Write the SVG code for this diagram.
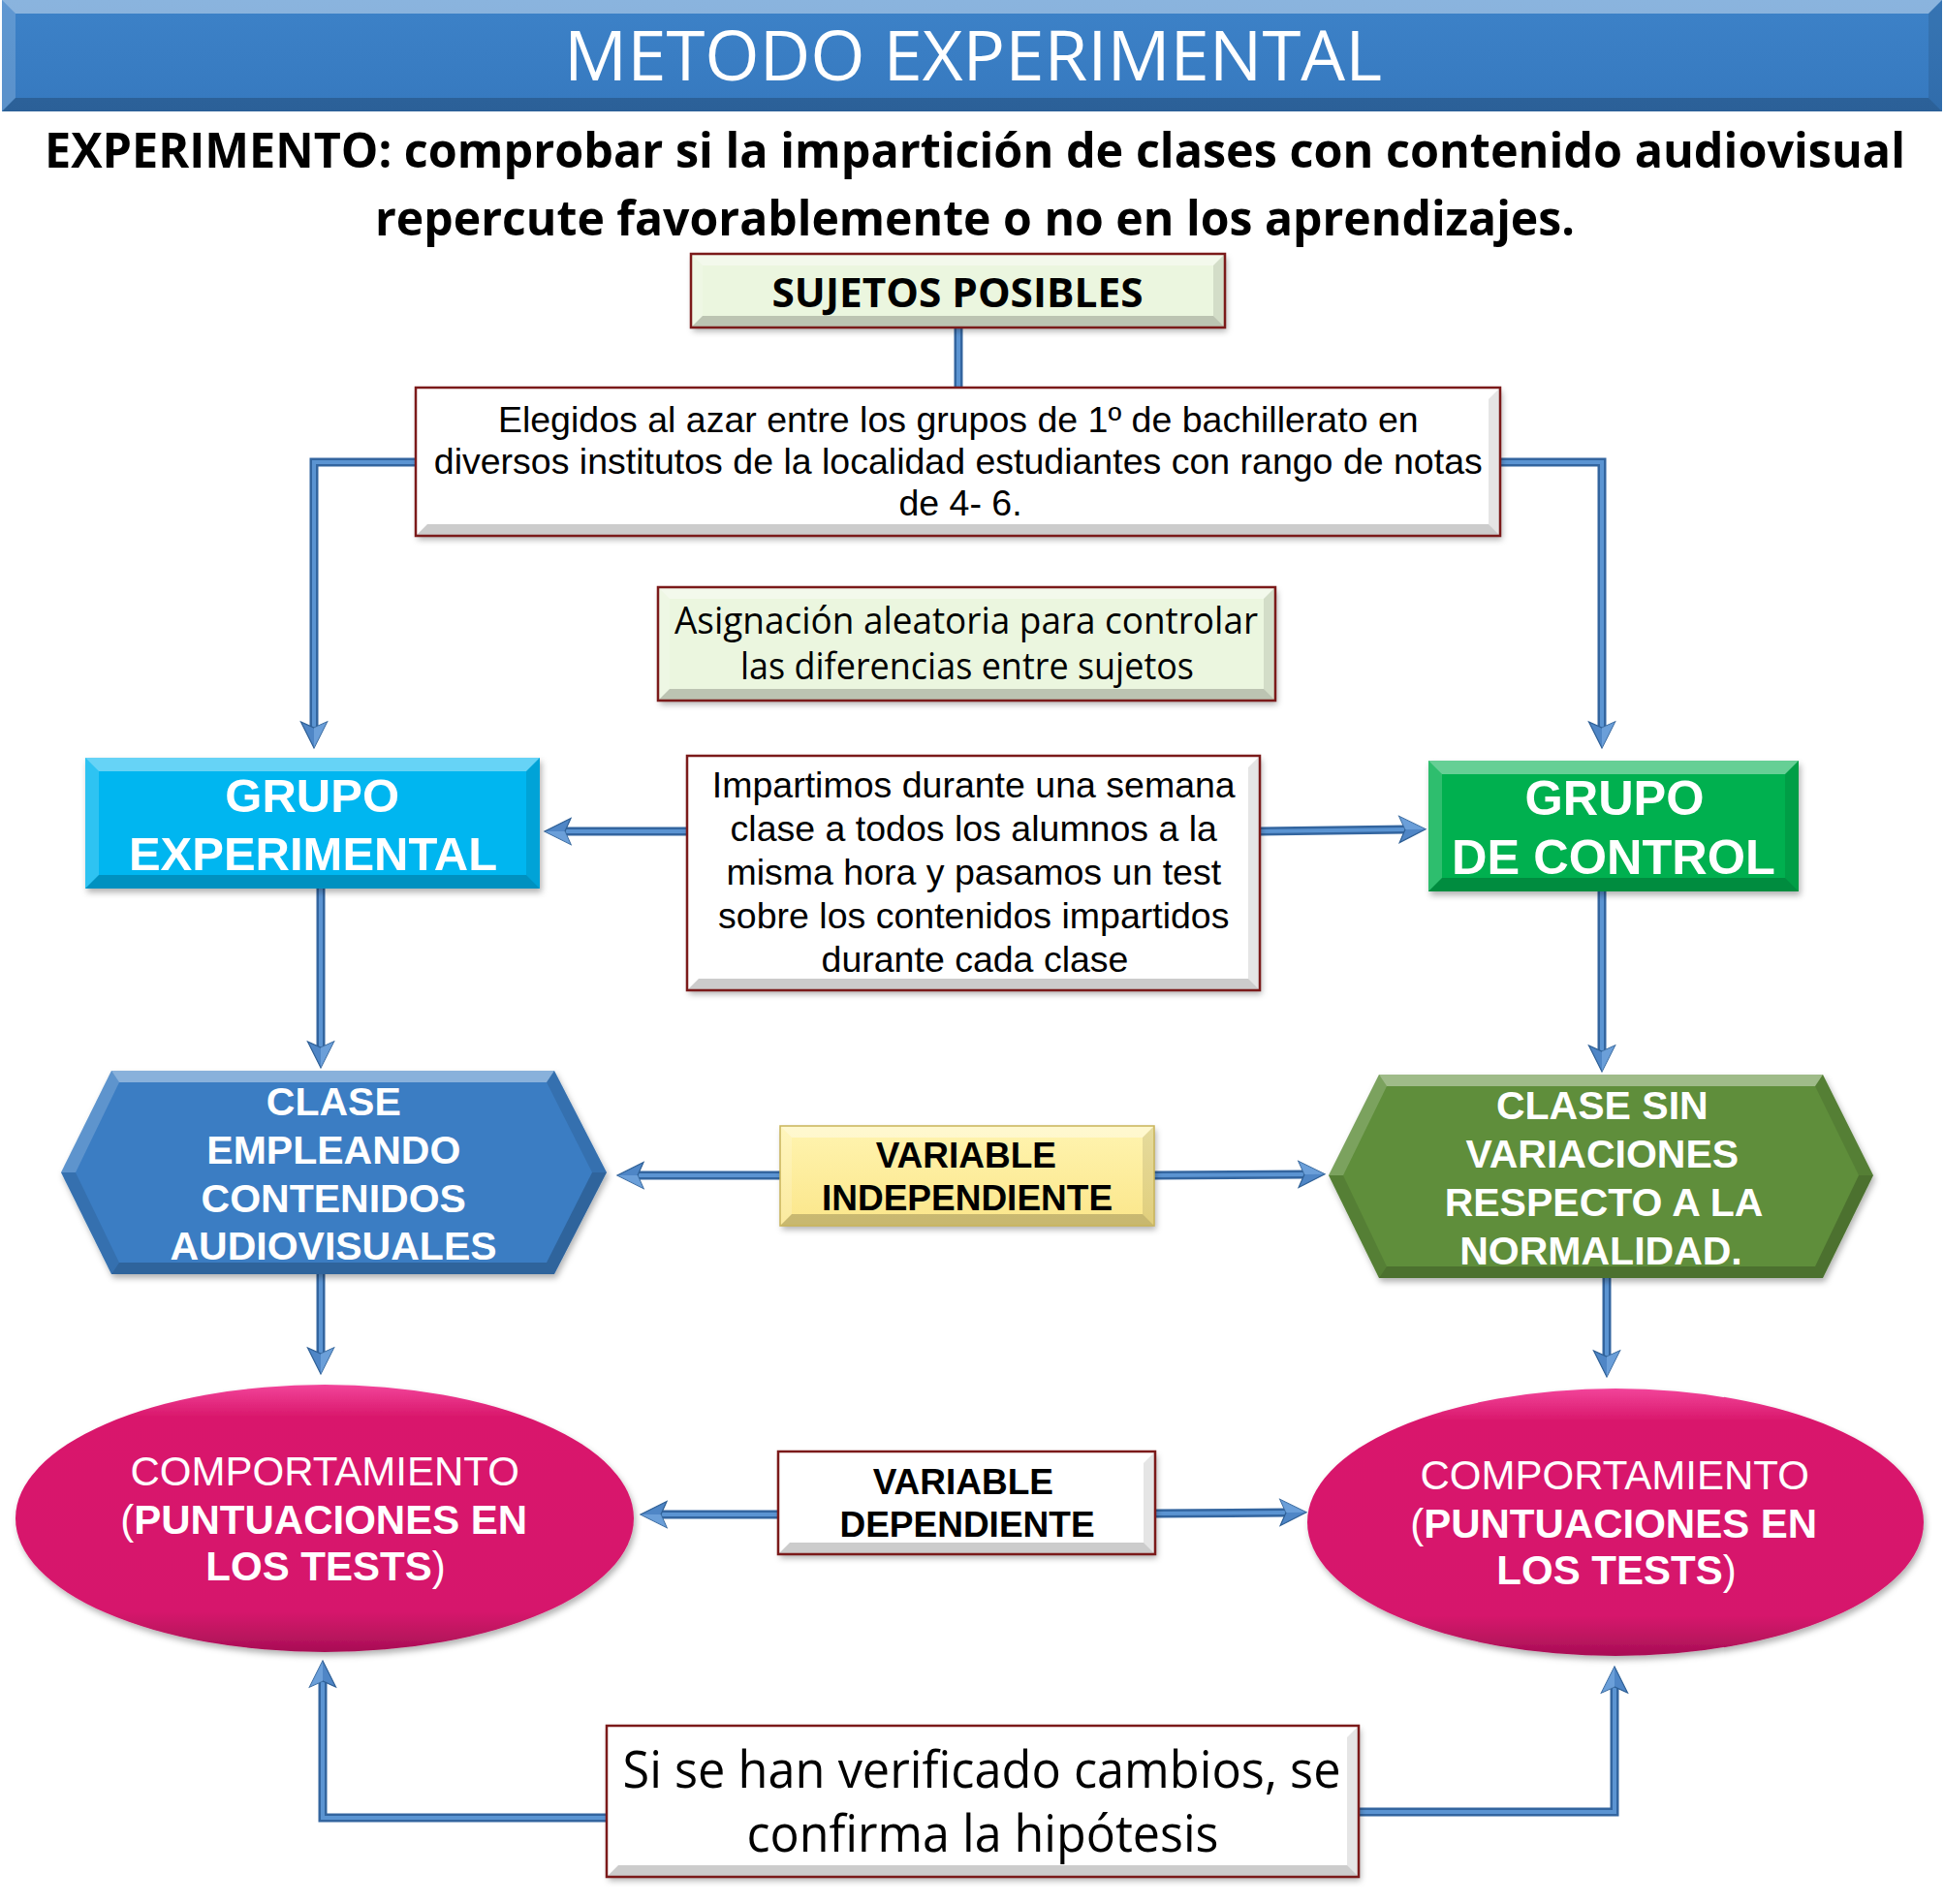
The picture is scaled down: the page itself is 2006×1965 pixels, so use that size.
<svg xmlns="http://www.w3.org/2000/svg" width="2006" height="1965" viewBox="0 0 2006 1965">
<defs>
<style>
.arial{font-family:"Liberation Sans",Arial,sans-serif}
.cal{font-family:"Open Sans","Liberation Sans",sans-serif}
.b{font-weight:bold}
.w{fill:#ffffff}
.k{fill:#000000}
.bt{fill:#ffffff;opacity:0.4}
.bl{fill:#ffffff;opacity:0.18}
.bb{fill:#000000;opacity:0.2}
.br{fill:#000000;opacity:0.1}
.redb{stroke:#7b1a1a;stroke-width:2.5}
.cb{fill:none;stroke:#33659f;stroke-width:9;stroke-linejoin:miter}
.cf{fill:none;stroke:#5b94d2;stroke-width:4;stroke-linejoin:miter}
</style>
<filter id="sh" x="-5%" y="-10%" width="112%" height="130%">
<feDropShadow dx="2" dy="4" stdDeviation="3" flood-color="#000" flood-opacity="0.3"/>
</filter>
<marker id="ah" markerUnits="userSpaceOnUse" viewBox="-2 -2 31 31" markerWidth="31" markerHeight="31" refX="6" refY="13.5" orient="auto" overflow="visible">
<path d="M0,0 L27,13.5 L0,27 L6,13.5 Z" fill="#4f86c6" stroke="#2e5f95" stroke-width="1.2"/>
<path d="M0,0 L27,13.5 L6,13.5 Z" fill="#7fb0e6" opacity="0.6"/>
</marker>
<linearGradient id="gHead" x1="0" y1="0" x2="0" y2="1">
<stop offset="0" stop-color="#3d82c8"/><stop offset="1" stop-color="#3679bf"/>
</linearGradient>
<linearGradient id="gPink" x1="0" y1="0" x2="0" y2="1">
<stop offset="0" stop-color="#f2449a"/><stop offset="0.12" stop-color="#d9186c"/><stop offset="0.85" stop-color="#d6186c"/><stop offset="1" stop-color="#a80f55"/>
</linearGradient>
<linearGradient id="gYel" x1="0" y1="0" x2="0" y2="1">
<stop offset="0" stop-color="#fff4b0"/><stop offset="1" stop-color="#fbe68a"/>
</linearGradient>
</defs>

<rect width="2006" height="1965" fill="#ffffff"/>

<!-- header -->
<g id="header">
<rect x="2" y="0" width="2002" height="115" fill="url(#gHead)"/>
<polygon class="bt" points="2,0 2004,0 1990,14 16,14"/>
<polygon class="bl" points="2,0 16,14 16,101 2,115"/>
<polygon class="bb" points="2,115 16,101 1990,101 2004,115"/>
<polygon class="br" points="2004,0 2004,115 1990,101 1990,14"/>
<text class="cal w" x="1004" y="83" font-size="72" text-anchor="middle" textLength="844" lengthAdjust="spacingAndGlyphs">METODO EXPERIMENTAL</text>
</g>

<g id="experimento">
<text class="cal b k" transform="translate(0,173) scale(1,1.1)" x="46" y="0" font-size="46" textLength="1920" lengthAdjust="spacingAndGlyphs">EXPERIMENTO: comprobar si la impartición de clases con contenido audiovisual</text>
<text class="cal b k" transform="translate(0,243) scale(1,1.1)" x="387" y="0" font-size="46" textLength="1238" lengthAdjust="spacingAndGlyphs">repercute favorablemente o no en los aprendizajes.</text>
</g>

<!-- connectors -->
<g id="connectors">
<path class="cb" d="M989,338 V401"/><path class="cf" d="M989,338 V401"/>
<path class="cb" d="M429,477 H324 V751"/><path class="cf" d="M429,477 H324 V751" marker-end="url(#ah)"/>
<path class="cb" d="M1548,477 H1653 V751"/><path class="cf" d="M1548,477 H1653 V751" marker-end="url(#ah)"/>
<path class="cb" d="M709,858 H583"/><path class="cf" d="M709,858 H583" marker-end="url(#ah)"/>
<path class="cb" d="M1300,858 L1450,856"/><path class="cf" d="M1300,858 L1450,856" marker-end="url(#ah)"/>
<path class="cb" d="M331,917 V1081"/><path class="cf" d="M331,917 V1081" marker-end="url(#ah)"/>
<path class="cb" d="M1653,920 V1085"/><path class="cf" d="M1653,920 V1085" marker-end="url(#ah)"/>
<path class="cb" d="M805,1213 H658"/><path class="cf" d="M805,1213 H658" marker-end="url(#ah)"/>
<path class="cb" d="M1191,1213 L1346,1212"/><path class="cf" d="M1191,1213 L1346,1212" marker-end="url(#ah)"/>
<path class="cb" d="M331,1315 V1397"/><path class="cf" d="M331,1315 V1397" marker-end="url(#ah)"/>
<path class="cb" d="M1658,1319 V1400"/><path class="cf" d="M1658,1319 V1400" marker-end="url(#ah)"/>
<path class="cb" d="M803,1563 H682"/><path class="cf" d="M803,1563 H682" marker-end="url(#ah)"/>
<path class="cb" d="M1192,1562 L1327,1561"/><path class="cf" d="M1192,1562 L1327,1561" marker-end="url(#ah)"/>
<path class="cb" d="M626,1876 H333 V1735"/><path class="cf" d="M626,1876 H333 V1735" marker-end="url(#ah)"/>
<path class="cb" d="M1402,1870 H1666 V1741"/><path class="cf" d="M1402,1870 H1666 V1741" marker-end="url(#ah)"/>
</g>

<!-- SUJETOS POSIBLES -->
<g id="sujetos">
<rect x="713" y="262" width="551" height="76" fill="#ebf6df" filter="url(#sh)"/>
<polygon class="bt" points="713,262 1264,262 1252,274 725,274"/>
<polygon class="bl" points="713,262 725,274 725,326 713,338"/>
<polygon class="bb" points="713,338 725,326 1252,326 1264,338"/>
<polygon class="br" points="1264,262 1264,338 1252,326 1252,274"/>
<rect x="713" y="262" width="551" height="76" fill="none" class="redb"/>
<text class="cal b k" x="988" y="317" font-size="42" text-anchor="middle" textLength="383" lengthAdjust="spacingAndGlyphs">SUJETOS POSIBLES</text>
</g>

<!-- Elegidos -->
<g id="elegidos">
<rect x="429" y="400" width="1119" height="153" fill="#ffffff" filter="url(#sh)"/>
<polygon class="bb" points="429,553 441,541 1536,541 1548,553"/>
<polygon class="br" points="1548,400 1548,553 1536,541 1536,412"/>
<rect x="429" y="400" width="1119" height="153" fill="none" class="redb"/>
<text class="arial k" font-size="37.5" text-anchor="middle">
<tspan x="994" y="446">Elegidos al azar entre los grupos de 1º de bachillerato en</tspan>
<tspan x="994" y="489">diversos institutos de la localidad estudiantes con rango de notas</tspan>
<tspan x="991" y="532">de 4- 6.</tspan>
</text>
</g>

<!-- Asignacion -->
<g id="asignacion">
<rect x="679" y="606" width="637" height="117" fill="#ebf6df" filter="url(#sh)"/>
<polygon class="bt" points="679,606 1316,606 1304,618 691,618"/>
<polygon class="bl" points="679,606 691,618 691,711 679,723"/>
<polygon class="bb" points="679,723 691,711 1304,711 1316,723"/>
<polygon class="br" points="1316,606 1316,723 1304,711 1304,618"/>
<rect x="679" y="606" width="637" height="117" fill="none" class="redb"/>
<text class="cal k" x="997" y="654" font-size="38" text-anchor="middle" textLength="602" lengthAdjust="spacingAndGlyphs">Asignación aleatoria para  controlar</text>
<text class="cal k" x="998" y="701" font-size="38" text-anchor="middle" textLength="468" lengthAdjust="spacingAndGlyphs">las diferencias entre sujetos</text>
</g>

<!-- GRUPO EXPERIMENTAL -->
<g id="grupo-experimental">
<rect x="88" y="782" width="469" height="135" fill="#06b6f0" filter="url(#sh)"/>
<polygon class="bt" points="88,782 557,782 543,796 102,796"/>
<polygon class="bl" points="88,782 102,796 102,903 88,917"/>
<polygon class="bb" points="88,917 102,903 543,903 557,917"/>
<polygon class="br" points="557,782 557,917 543,903 543,796"/>
<text class="arial b w" font-size="49" text-anchor="middle">
<tspan x="329" y="838">GRUPO</tspan>
<tspan x="323" y="898">EXPERIMENTAL</tspan>
</text>
</g>

<!-- Impartimos -->
<g id="impartimos">
<rect x="709" y="780" width="591" height="242" fill="#ffffff" filter="url(#sh)"/>
<polygon class="bb" points="709,1022 721,1010 1288,1010 1300,1022"/>
<polygon class="br" points="1300,780 1300,1022 1288,1010 1288,792"/>
<rect x="709" y="780" width="591" height="242" fill="none" class="redb"/>
<text class="arial k" font-size="37.5" text-anchor="middle">
<tspan x="1010" y="823">Impartimos durante una semana</tspan>
<tspan x="1010" y="868">clase a todos los alumnos a la</tspan>
<tspan x="1010" y="913">misma hora y pasamos un test</tspan>
<tspan x="1010" y="958">sobre los contenidos impartidos</tspan>
<tspan x="1006" y="1003">durante cada clase</tspan>
</text>
</g>

<!-- GRUPO DE CONTROL -->
<g id="grupo-control">
<rect x="1474" y="785" width="382" height="135" fill="#00b050" filter="url(#sh)"/>
<polygon class="bt" points="1474,785 1856,785 1842,799 1488,799"/>
<polygon class="bl" points="1474,785 1488,799 1488,906 1474,920"/>
<polygon class="bb" points="1474,920 1488,906 1842,906 1856,920"/>
<polygon class="br" points="1856,785 1856,920 1842,906 1842,799"/>
<text class="arial b w" font-size="50.5" text-anchor="middle">
<tspan x="1673" y="841">GRUPO</tspan>
<tspan x="1665" y="902">DE CONTROL</tspan>
</text>
</g>

<!-- Hexagon left -->
<g id="clase-audiovisual">
<polygon points="63,1210 115,1105 572,1105 626,1210 572,1315 115,1315" fill="#3a7dc3" filter="url(#sh)"/>
<polygon class="bt" points="115,1105 572,1105 564,1117 123,1117"/>
<polygon class="bl" points="63,1210 115,1105 123,1117 78,1210"/>
<polygon class="br" points="572,1105 626,1210 611,1210 564,1117"/>
<polygon class="bb" points="626,1210 572,1315 564,1303 611,1210"/>
<polygon class="bb" points="572,1315 115,1315 123,1303 564,1303"/>
<polygon class="br" points="115,1315 63,1210 78,1210 123,1303"/>
<text class="arial b w" font-size="41" text-anchor="middle">
<tspan x="350" y="1151">CLASE</tspan>
<tspan x="350" y="1201">EMPLEANDO</tspan>
<tspan x="350" y="1251">CONTENIDOS</tspan>
<tspan x="344" y="1300">AUDIOVISUALES</tspan>
</text>
</g>

<!-- VARIABLE INDEPENDIENTE -->
<g id="variable-independiente">
<rect x="805" y="1162" width="386" height="103" fill="url(#gYel)" filter="url(#sh)"/>
<polygon class="bt" points="805,1162 1191,1162 1179,1174 817,1174"/>
<polygon class="bl" points="805,1162 817,1174 817,1253 805,1265"/>
<polygon class="bb" points="805,1265 817,1253 1179,1253 1191,1265"/>
<polygon class="br" points="1191,1162 1191,1265 1179,1253 1179,1174"/>
<rect x="805" y="1162" width="386" height="103" fill="none" stroke="#c9b45a" stroke-width="1.5"/>
<text class="arial b k" font-size="37" text-anchor="middle">
<tspan x="1002" y="1205">VARIABLE</tspan>
<tspan x="998" y="1249">INDEPENDIENTE</tspan>
</text>
</g>

<!-- Hexagon right -->
<g id="clase-sin-variaciones">
<polygon points="1371,1213 1423,1109 1881,1109 1933,1213 1881,1319 1423,1319" fill="#5e8e3a" filter="url(#sh)"/>
<polygon class="bt" points="1423,1109 1881,1109 1873,1121 1431,1121"/>
<polygon class="bl" points="1371,1213 1423,1109 1431,1121 1386,1213"/>
<polygon class="br" points="1881,1109 1933,1213 1918,1213 1873,1121"/>
<polygon class="bb" points="1933,1213 1881,1319 1873,1307 1918,1213"/>
<polygon class="bb" points="1881,1319 1423,1319 1431,1307 1873,1307"/>
<polygon class="br" points="1423,1319 1371,1213 1386,1213 1431,1307"/>
<text class="arial b w" font-size="41" text-anchor="middle">
<tspan x="1659" y="1155">CLASE SIN</tspan>
<tspan x="1659" y="1205">VARIACIONES</tspan>
<tspan x="1660" y="1255">RESPECTO A LA</tspan>
<tspan x="1652" y="1305">NORMALIDAD.</tspan>
</text>
</g>

<!-- Ellipse left -->
<g id="comportamiento-exp">
<ellipse cx="335" cy="1567" rx="319" ry="138" fill="url(#gPink)" filter="url(#sh)"/>
<text class="arial w" font-size="42" text-anchor="middle">
<tspan x="341" y="1533">COMPORTAMIENTO</tspan>
<tspan x="340" y="1583">(<tspan class="b">PUNTUACIONES EN</tspan></tspan>
<tspan x="336" y="1631"><tspan class="b">LOS TESTS</tspan>)</tspan>
</text>
</g>

<!-- VARIABLE DEPENDIENTE -->
<g id="variable-dependiente">
<rect x="803" y="1498" width="389" height="106" fill="#ffffff" filter="url(#sh)"/>
<polygon class="bb" points="803,1604 815,1592 1180,1592 1192,1604"/>
<polygon class="br" points="1192,1498 1192,1604 1180,1592 1180,1510"/>
<rect x="803" y="1498" width="389" height="106" fill="none" class="redb"/>
<text class="arial b k" font-size="37" text-anchor="middle">
<tspan x="999" y="1542">VARIABLE</tspan>
<tspan x="998" y="1586">DEPENDIENTE</tspan>
</text>
</g>

<!-- Ellipse right -->
<g id="comportamiento-ctl">
<ellipse cx="1667" cy="1571" rx="318" ry="138" fill="url(#gPink)" filter="url(#sh)"/>
<text class="arial w" font-size="42" text-anchor="middle">
<tspan x="1672" y="1537">COMPORTAMIENTO</tspan>
<tspan x="1671" y="1587">(<tspan class="b">PUNTUACIONES EN</tspan></tspan>
<tspan x="1668" y="1635"><tspan class="b">LOS TESTS</tspan>)</tspan>
</text>
</g>

<!-- Si se han verificado -->
<g id="hipotesis">
<rect x="626" y="1781" width="776" height="156" fill="#ffffff" filter="url(#sh)"/>
<polygon class="bb" points="626,1937 638,1925 1390,1925 1402,1937"/>
<polygon class="br" points="1402,1781 1402,1937 1390,1925 1390,1793"/>
<rect x="626" y="1781" width="776" height="156" fill="none" class="redb"/>
<text class="cal k" x="1013" y="1845" font-size="53" text-anchor="middle" textLength="741" lengthAdjust="spacingAndGlyphs">Si se han verificado cambios, se</text>
<text class="cal k" x="1014" y="1911" font-size="53" text-anchor="middle" textLength="487" lengthAdjust="spacingAndGlyphs">confirma la hipótesis</text>
</g>
</svg>
